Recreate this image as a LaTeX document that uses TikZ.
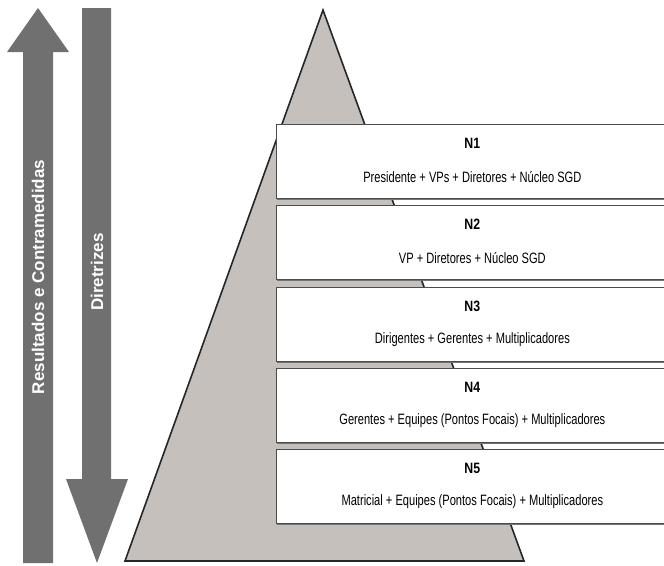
\documentclass[tikz,border=0pt]{standalone}
\usepackage{fontspec}
\setsansfont{Liberation Sans}
\newfontfamily\narrowsf[FakeStretch=0.74]{Liberation Sans}
\newfontfamily\titlesf[FakeStretch=0.82]{Liberation Sans}
\usetikzlibrary{calc,shadows}
\definecolor{arrowgray}{HTML}{707070}
\definecolor{pyrgray}{HTML}{C6C0BD}

\begin{document}
\begin{tikzpicture}[x=1pt, y=-1pt, line join=miter]
  \tikzset{
    flow/.style={fill=arrowgray, draw=none},
    flowtext/.style={rotate=90, text=white, font=\sffamily\bfseries\fontsize{17pt}{19pt}\selectfont},
    level/.style={draw=black!70, line width=0.7pt, fill=white, minimum width=392pt, minimum height=74pt,
      inner sep=0pt, anchor=north west,
      drop shadow={shadow xshift=0.6pt, shadow yshift=-1.8pt, fill=black!55, opacity=1}},
    lvltitle/.style={font=\titlesf\bfseries\fontsize{15pt}{17pt}\selectfont},
    lvltext/.style={font=\narrowsf\fontsize{15pt}{17pt}\selectfont}
  }
  \useasboundingbox (0,0) rectangle (664,565);

  % Upward arrow (results)
  \fill[flow] (23,563) -- (23,52) -- (7,52) -- (38,8) -- (69,52) -- (53,52) -- (53,563) -- cycle;
  \node[flowtext] (res) at (38,277) {Resultados e Contramedidas};

  % Downward arrow (guidelines)
  \fill[flow] (82,8) -- (82,479) -- (66,479) -- (97,563) -- (128,479) -- (111,479) -- (111,8) -- cycle;
  \node[flowtext] (dir) at (97,272) {Diretrizes};

  % Pyramid
  \coordinate (apex) at (323,10);
  \coordinate (baseL) at (125,561);
  \coordinate (baseR) at (524,561);
  \draw[fill=pyrgray, draw=black!85, line width=1.6pt] (apex) -- (baseL) -- (baseR) -- cycle;

  % Level N1
  \node[level] (box1) at (276,124) {};
  \node[lvltitle] (t1) at ($(box1.north)+(0,19)$) {N1};
  \node[lvltext] (d1) at ($(box1.north)+(0,53)$) {Presidente + VPs + Diretores + Núcleo SGD};

  % Level N2
  \node[level] (box2) at (276,205) {};
  \node[lvltitle] (t2) at ($(box2.north)+(0,19)$) {N2};
  \node[lvltext] (d2) at ($(box2.north)+(0,53)$) {VP + Diretores + Núcleo SGD};

  % Level N3
  \node[level] (box3) at (276,287) {};
  \node[lvltitle] (t3) at ($(box3.north)+(0,19)$) {N3};
  \node[lvltext] (d3) at ($(box3.north)+(0,53)$) {Dirigentes + Gerentes + Multiplicadores};

  % Level N4
  \node[level] (box4) at (276,368) {};
  \node[lvltitle] (t4) at ($(box4.north)+(0,19)$) {N4};
  \node[lvltext] (d4) at ($(box4.north)+(0,53)$) {Gerentes + Equipes (Pontos Focais) + Multiplicadores};

  % Level N5
  \node[level] (box5) at (276,449) {};
  \node[lvltitle] (t5) at ($(box5.north)+(0,19)$) {N5};
  \node[lvltext] (d5) at ($(box5.north)+(0,53)$) {Matricial + Equipes (Pontos Focais) + Multiplicadores};

\end{tikzpicture}
\end{document}
